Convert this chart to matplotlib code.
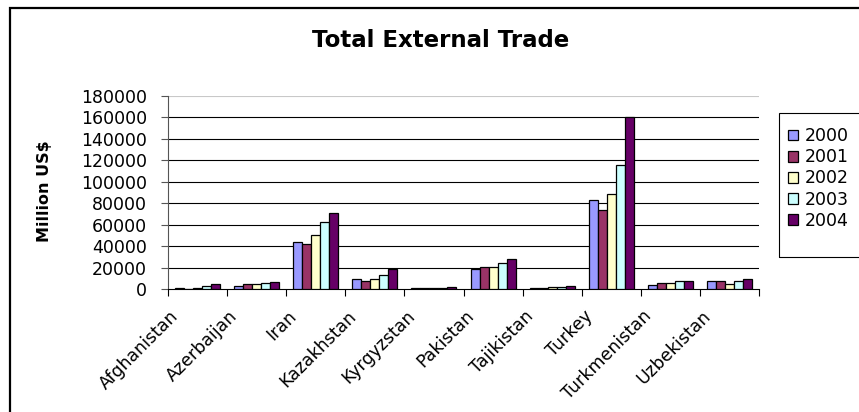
"""Total external trade by country, 2000-2004, as a clustered bar chart.

Usage
-----
    python plot.py
"""

import numpy as np
import matplotlib.pyplot as plt
from matplotlib.patches import Rectangle
from matplotlib.transforms import ScaledTranslation

countries = ['Afghanistan', 'Azerbaijan', 'Iran', 'Kazakhstan', 'Kyrgyzstan',
             'Pakistan', 'Tajikistan', 'Turkey', 'Turkmenistan', 'Uzbekistan']
years = ['2000', '2001', '2002', '2003', '2004']

trade_2000 = [1000, 2800, 43800, 9300, 1000, 18600, 1300, 82600, 4000, 7100]
trade_2001 = [300, 4300, 42300, 7800, 950, 20200, 1300, 73300, 5600, 7100]
trade_2002 = [1100, 4300, 50400, 9300, 1050, 20200, 1400, 88200, 5600, 5000]
trade_2003 = [2700, 5600, 62200, 13400, 1300, 24200, 1700, 116100, 7100, 7100]
trade_2004 = [4200, 6800, 70600, 19000, 1600, 28000, 2800, 160200, 7100, 9600]

year_colors = ['#9999FF', '#993366', '#FFFFCC', '#CCFFFF', '#660066']

W, H = 859, 412


def plot_bars(ax):
    """Draw the clustered bars, axes, gridlines and category labels.

    Parameters
    ----------
    ax : matplotlib.axes.Axes
        Axes object to draw the plot on.

    Returns
    -------
    None
    """
    series = [trade_2000, trade_2001, trade_2002, trade_2003, trade_2004]
    x = np.arange(len(countries))
    bar_w = 0.152
    for i, (vals, color, year) in enumerate(zip(series, year_colors, years)):
        ax.bar(x + (i - 2) * bar_w, vals, width=bar_w, color=color,
               edgecolor='black', linewidth=0.9, label=year, zorder=3)

    ax.set_xlim(-0.5, len(countries) - 0.5)
    ax.set_ylim(0, 180000)
    ax.set_yticks(np.arange(0, 180001, 20000))
    for y in range(20000, 160001, 20000):
        ax.axhline(y, color='black', linewidth=0.8, zorder=1)
    ax.axhline(180000, color='#c8c8c8', linewidth=0.8, zorder=1)

    ax.set_xticks(np.arange(len(countries) + 1) - 0.5)
    ax.set_xticklabels([])
    ax.tick_params(axis='x', direction='out', length=5, width=0.8, color='black')
    ax.tick_params(axis='y', direction='out', length=5, width=0.8,
                   color='#555555', pad=10, labelsize=12.5)
    for side in ['top', 'right']:
        ax.spines[side].set_visible(False)
    ax.spines['left'].set_color('#555555')
    ax.spines['bottom'].set_color('black')

    fig = ax.figure
    shift = ScaledTranslation(-28 / 100, -18 / 100, fig.dpi_scale_trans)
    trans = ax.get_xaxis_transform() + shift
    for xi, name in zip(x, countries):
        ax.text(xi, 0, name, transform=trans, rotation=45,
                rotation_mode='anchor', ha='right', va='top', fontsize=12.5)


def main():
    """Build the figure and save it as out.png.

    Returns
    -------
    None
    """
    fig = plt.figure(figsize=(W / 100, H / 100), dpi=100)
    ax = fig.add_axes([168 / W, 1 - 289 / H, (759 - 168) / W, (289 - 96) / H])
    plot_bars(ax)

    fig.text(441 / W, 1 - 47 / H, 'Total External Trade', ha='center',
             va='baseline', fontsize=16.5, fontweight='bold')
    fig.text(45 / W, 1 - 191 / H, 'Million US$', ha='center', va='center',
             rotation=90, fontsize=11.5, fontweight='bold')

    # legend frame drawn by hand: Excel leaves extra room under the last row
    fig.add_artist(Rectangle((779 / W, 1 - 257 / H), 100 / W, 144 / H,
                             transform=fig.transFigure, fill=False,
                             edgecolor='black', linewidth=0.8))
    ax.legend(loc='upper left', bbox_to_anchor=(779 / W, 1 - 118 / H),
              bbox_transform=fig.transFigure, borderaxespad=0,
              fontsize=12.5, frameon=False,
              handlelength=0.58, handleheight=0.58, handletextpad=0.35,
              labelspacing=0.18, borderpad=0.53)

    fig.add_artist(Rectangle((10 / W, -0.1), 1.2, 1.1 - 8 / H,
                             transform=fig.transFigure, fill=False,
                             edgecolor='black', linewidth=1.6))

    fig.savefig('out.png', dpi=100)
    print("Saved out.png")


if __name__ == '__main__':
    main()
